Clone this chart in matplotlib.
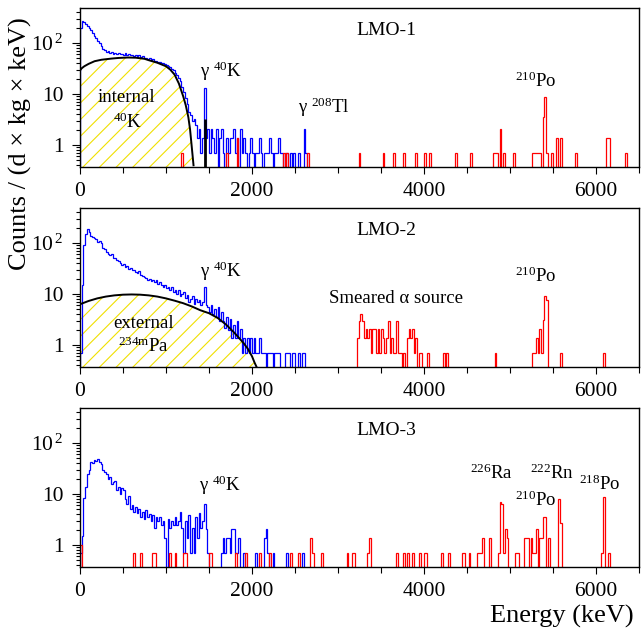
import numpy as np
import matplotlib
matplotlib.use('Agg')
import matplotlib.pyplot as plt
from matplotlib.ticker import FixedLocator, FixedFormatter, MultipleLocator, LogLocator, NullFormatter

plt.rcParams['font.family'] = ['Liberation Serif', 'DejaVu Serif']
plt.rcParams['mathtext.fontset'] = 'custom'
plt.rcParams['mathtext.rm'] = 'Liberation Serif'
plt.rcParams['mathtext.it'] = 'Liberation Serif:italic'
plt.rcParams['mathtext.bf'] = 'Liberation Serif:bold'
plt.rcParams['hatch.linewidth'] = 0.8
plt.rcParams['hatch.color'] = '#f0e000'

# --- data: 20 keV bins, counts / (d x kg x keV) ---
bin_width = 20
n_bins = 325  # 0 - 6500 keV

# beta/gamma events (blue), bins starting at 0 keV
blue_lmo1 = [200, 265, 255, 235, 215, 200, 180, 160, 140, 125,
             110, 100, 88, 78, 72, 68, 70, 64, 66, 62,
             64, 60, 64, 60, 62, 59, 63, 58, 61, 57,
             59, 56, 58, 55, 57, 53, 55, 51, 52, 49,
             50, 47, 48, 45, 44, 42, 43, 40, 41, 38,
             37, 35, 34, 31, 30, 26, 24, 21, 18, 14,
             11, 8.5, 6.5, 4.5, 3.9, 2.9, 3.2, 2.5, 1.4, 2.1,
             0.7, 1.4, 13, 1.4, 2.1, 0.7, 2.1, 1.4, 0.7, 2.1,
             0, 1.4, 2.1, 0.7, 0, 1.4, 0.7, 1.4, 1.4, 2.1,
             0.7, 1.4, 0, 2.1, 0.7, 1.4, 0.7, 0, 0.7, 1.4,
             0.7, 0, 0.7, 0.7, 1.4, 0.7, 0, 0.7, 0.7, 0.7,
             1.4, 0.7, 0, 0.7, 0.7, 1.4, 0.7, 0.7, 0, 0.7,
             0.7, 0, 0.7, 0, 0.7, 0, 0, 0.7, 0, 0,
             2.1, 0.7]
blue_lmo2 = [0.7, 15, 90, 150, 190, 165, 140, 130, 125, 118,
             105, 108, 100, 80, 75, 68, 62, 58, 60, 52,
             50, 47, 44, 40, 37, 38, 34, 36, 31, 33,
             29, 30, 27, 26, 28, 24, 23, 22, 21, 19,
             20, 18, 19, 17, 19, 16, 17, 15, 14, 15,
             13, 14, 12, 14, 11, 12, 10, 12, 9, 10,
             11, 8.5, 9.5, 7, 8, 9, 6.5, 8, 7, 7.5,
             6, 7, 14, 6, 5.5, 4.5, 6, 4, 5, 3.5,
             5.5, 3, 4.5, 3, 2.2, 3.6, 2.0, 3.2, 1.4, 2.5,
             1.4, 2.9, 1.4, 2.1, 0.7, 1.4, 0.7, 1.4, 0.7, 1.4,
             0.7, 1.4, 0.7, 0.7, 1.4, 0.7, 0.7, 0.7, 0, 0.7,
             0.7, 0.7, 0, 0.7, 0.7, 0.7, 0, 0, 0, 0.7,
             0.7, 0.7, 0, 0.7, 0.7, 0, 0, 0.7, 0, 0.7,
             0.7]
blue_lmo3 = [0.7, 1.5, 8.5, 14, 25, 30, 42, 40, 47, 44,
             48, 42, 38, 30, 27, 25, 20, 22, 16, 17,
             18, 12, 14, 10, 13, 12, 8, 6.5, 9, 5,
             6, 4.5, 5.5, 4.2, 5, 3.6, 4.5, 3.2, 4.8, 3.5,
             4, 2.9, 3.8, 2.2, 3.5, 2.9, 3.6, 2.5, 2.9, 1.4,
             0, 3.3, 2.2, 2.9, 2.5, 3.6, 2.5, 2.9, 4.5, 2.2,
             0.7, 2.9, 1.4, 3.8, 0.7, 2.2, 0.7, 3.6, 1.4, 4.2,
             2.2, 2.9, 6.5, 2.1, 0.7, 0, 0, 0, 0, 0,
             0, 0, 0.7, 1.4, 0.7, 1.4, 1.4, 0.7, 2.1, 2.1,
             0.7, 0.7, 1.4, 0, 0, 0.7, 0, 0, 0, 0,
             0, 0, 0.7, 0, 0, 0, 0, 1.4, 2.1, 0.7,
             0, 0, 0.7, 0, 0, 0, 0, 0, 0, 0,
             0.7, 0, 0, 0, 0, 0, 0, 0, 0, 0.7]

# alpha events (red): bin start energy (keV) and value
red_e_lmo1 = [1180, 1700, 1820, 2360, 2400, 2640, 3240, 3520, 3640, 3760,
              3900, 4000, 4060, 4360, 4540, 4800, 4820, 4840, 4880, 4920,
              5040, 5260, 5280, 5300, 5320, 5340, 5380, 5400, 5420, 5480,
              5540, 5580, 5760, 6120, 6140, 6340]
red_v_lmo1 = [0.7, 0.7, 1.4, 0.7, 0.7, 0.7, 0.7, 0.7, 0.7, 0.7,
              0.7, 0.7, 0.7, 0.7, 0.7, 0.7, 0.7, 0.7, 2.1, 0.7,
              0.7, 0.7, 0.7, 0.7, 0.7, 0.7, 3.6, 8.9, 0.7, 0.7,
              1.4, 1.4, 0.7, 1.4, 1.4, 0.7]
red_e_lmo2 = [3220, 3240, 3260, 3280, 3300, 3320, 3340, 3360, 3380, 3400,
              3420, 3440, 3460, 3480, 3500, 3520, 3540, 3560, 3580, 3600,
              3620, 3640, 3660, 3680, 3700, 3720, 3760, 3800, 3820, 3840,
              3860, 3880, 3900, 3940, 3960, 4040, 4220, 4260, 4820, 5260,
              5280, 5300, 5320, 5340, 5360, 5380, 5400, 5420, 5580, 6080]
red_v_lmo2 = [1.4, 2.9, 4.0, 2.9, 1.4, 2.1, 1.4, 2.1, 0.7, 2.1,
              2.1, 0.7, 2.1, 0.7, 2.1, 1.4, 0.7, 1.4, 2.9, 0.7,
              1.4, 0.7, 0.7, 2.9, 0.7, 0.7, 0.7, 1.4, 2.1, 1.4,
              2.1, 0.7, 1.4, 0.7, 0.7, 0.7, 0.7, 0.7, 0.7, 0.7,
              0.7, 1.4, 0.7, 2.1, 0.7, 3.1, 9.1, 7.6, 0.7, 0.7]
red_e_lmo3 = [0, 620, 700, 840, 860, 1040, 1100, 1200, 1220, 1500,
              1520, 1800, 1920, 2080, 2200, 2440, 2540, 2680, 2700, 2800,
              3100, 3160, 3180, 3340, 3360, 3680, 3760, 3800, 3860, 3940,
              4000, 4020, 4200, 4280, 4440, 4460, 4520, 4620, 4640, 4660,
              4680, 4760, 4860, 4880, 4900, 4920, 4940, 4960, 5060, 5080,
              5160, 5180, 5200, 5240, 5260, 5280, 5300, 5340, 5360, 5380,
              5400, 5440, 5560, 5580, 6060, 6080, 6140]
red_v_lmo3 = [1.0, 0.7, 0.7, 0.7, 0.7, 0.7, 0.7, 0.7, 0.7, 0.7,
              0.7, 0.7, 0.7, 0.7, 0.7, 0.7, 0.7, 1.4, 0.7, 0.7,
              0.7, 0.7, 0.7, 0.7, 1.4, 0.7, 0.7, 0.7, 0.7, 0.7,
              0.7, 0.7, 0.7, 0.7, 0.7, 0.7, 0.7, 0.7, 0.7, 0.7,
              1.4, 1.4, 0.7, 7.1, 6.5, 0.7, 2.1, 1.4, 0.7, 0.7,
              1.4, 1.4, 1.4, 1.4, 0.7, 0.7, 2.1, 1.4, 1.4, 3.6,
              3.6, 1.4, 7.9, 2.7, 0.7, 8.6, 0.7]

# background models (black curves)
k40_e = [0, 20, 50, 100, 170, 250, 365, 450, 560, 650, 750, 800, 900,
         1000, 1050, 1100, 1150, 1200, 1230, 1260, 1280, 1300, 1320]
k40_v = [29, 32, 35, 39, 44, 47, 49.5, 51, 52, 51.5, 49, 46, 41,
         35, 30, 24, 16, 9, 6, 3.5, 2.0, 0.9, 0.4]
k40_gamma_e = 1455
k40_gamma_v = 3.3
pa_e = [0, 100, 200, 300, 400, 500, 600, 700, 800, 900, 1000, 1100,
        1200, 1300, 1400, 1500, 1600, 1700, 1800, 1900, 1950, 2000, 2030, 2060]
pa_v = [6.3, 7.3, 8.2, 8.9, 9.4, 9.7, 9.8, 9.7, 9.4, 8.9, 8.2, 7.4,
        6.6, 5.7, 4.8, 4.2, 3.4, 2.5, 1.7, 1.1, 0.85, 0.6, 0.45, 0.35]

edges = np.arange(n_bins + 1) * bin_width
floor = 1e-3


def full_hist(values):
    h = np.zeros(n_bins)
    h[:len(values)] = values
    return np.where(h > 0, h, floor)


def sparse_hist(energies, values):
    h = np.zeros(n_bins)
    h[np.array(energies) // bin_width] = values
    return np.where(h > 0, h, floor)


fig = plt.figure(figsize=(6.41, 6.32), dpi=100)
W, H = 641.0, 632.0
left, width = 80 / W, 559 / W
tops = [8.3, 208.3, 408.3]
ph = 158.4

yellow = '#f0e000'
panels = [
    ('LMO-1', blue_lmo1, red_e_lmo1, red_v_lmo1),
    ('LMO-2', blue_lmo2, red_e_lmo2, red_v_lmo2),
    ('LMO-3', blue_lmo3, red_e_lmo3, red_v_lmo3),
]

axes = []
for i, (name, blue, red_e, red_v) in enumerate(panels):
    ax = fig.add_axes([left, 1 - (tops[i] + ph) / H, width, ph / H])
    ax.set_yscale('log')

    if i == 0:
        ax.fill_between(k40_e, floor, k40_v, facecolor='none', edgecolor=yellow,
                        hatch='//', linewidth=0)
    if i == 1:
        ax.fill_between(pa_e, floor, pa_v, facecolor='none', edgecolor=yellow,
                        hatch='//', linewidth=0)

    ax.stairs(full_hist(blue), edges, baseline=floor, color='#0000ff', lw=0.9)

    if i == 0:
        ax.plot(k40_e, k40_v, color='black', lw=1.4)
        ax.vlines(k40_gamma_e, floor, k40_gamma_v, color='black', lw=2.0)
    if i == 1:
        ax.plot(pa_e, pa_v, color='black', lw=1.4)

    ax.stairs(sparse_hist(red_e, red_v), edges, baseline=floor, color='#ff0000', lw=0.9)

    ax.set_xlim(0, 6500)
    ax.set_ylim(0.375, 480)

    ax.yaxis.set_major_locator(FixedLocator([1, 10, 100]))
    ax.yaxis.set_major_formatter(FixedFormatter(['1', '10', '10$^{\\,2}$']))
    ax.yaxis.set_minor_locator(LogLocator(base=10, subs=np.arange(2, 10)))
    ax.yaxis.set_minor_formatter(NullFormatter())
    ax.xaxis.set_major_locator(FixedLocator([0, 2000, 4000, 6000]))
    ax.xaxis.set_minor_locator(MultipleLocator(500))

    ax.tick_params(axis='both', which='both', direction='out', top=False, right=False,
                   labelsize=15.5, width=0.8)
    ax.tick_params(axis='y', which='major', length=6, pad=6)
    ax.tick_params(axis='y', which='minor', length=3)
    ax.tick_params(axis='x', which='major', length=5, pad=6)
    ax.tick_params(axis='x', which='minor', length=4)
    for s in ax.spines.values():
        s.set_linewidth(1.0)

    ax.text(3566, 180, name, fontsize=14, ha='center', va='center')
    axes.append(ax)

ann = 13.5
ax1, ax2, ax3 = axes
ax1.text(1396, 21.2, 'γ $^{40}$K', fontsize=ann, ha='left', va='baseline')
ax1.text(2540, 4.18, 'γ $^{208}$Tl', fontsize=ann, ha='left', va='baseline')
ax1.text(5061, 13.5, '$^{210}$Po', fontsize=ann, ha='left', va='baseline')
ax1.text(209, 7.0, 'internal', fontsize=ann, ha='left', va='baseline')
ax1.text(384, 2.2, '$^{40}$K', fontsize=ann, ha='left', va='baseline')

ax2.text(1396, 21.2, 'γ $^{40}$K', fontsize=ann, ha='left', va='baseline')
ax2.text(5061, 17.5, '$^{210}$Po', fontsize=ann, ha='left', va='baseline')
ax2.text(2901, 6.75, 'Smeared α source', fontsize=ann, ha='left', va='baseline')
ax2.text(388, 2.2, 'external', fontsize=ann, ha='left', va='baseline')
ax2.text(446, 0.74, '$^{\\mathrm{234m}}$Pa', fontsize=ann, ha='left', va='baseline')

ax3.text(1388, 11.6, 'γ $^{40}$K', fontsize=ann, ha='left', va='baseline')
ax3.text(4537, 19.4, '$^{226}$Ra', fontsize=ann, ha='left', va='baseline')
ax3.text(5228, 19.4, '$^{222}$Rn', fontsize=ann, ha='left', va='baseline')
ax3.text(5061, 5.8, '$^{210}$Po', fontsize=ann, ha='left', va='baseline')
ax3.text(5798, 12.0, '$^{218}$Po', fontsize=ann, ha='left', va='baseline')

fig.text(20 / W, 1 - 17 / H, 'Counts / (d × kg × keV)', rotation=90,
         ha='center', va='top', fontsize=19)
fig.text(634 / W, 1 - 623 / H, 'Energy (keV)', ha='right', va='baseline', fontsize=19)

fig.savefig('out.png', dpi=100)
